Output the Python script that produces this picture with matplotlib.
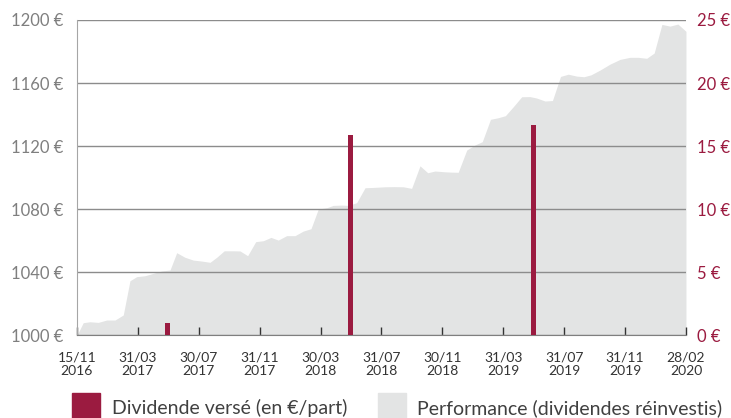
import matplotlib.pyplot as plt
from matplotlib.patches import Rectangle

plt.rcParams['font.family'] = ['Lato', 'DejaVu Sans']

# performance (dividendes reinvestis), x in months since 15/11/2016
perf_months = [0, 0.41, 0.85, 1.40, 1.95, 2.50, 3.04, 3.48, 3.92, 4.47, 5.01, 5.56, 6.11,
               6.55, 7.09, 7.64, 8.19, 8.74, 9.18, 9.67, 10.27, 10.71, 11.21, 11.74, 12.24,
               12.74, 13.22, 13.77, 14.32, 14.86, 15.37, 15.85, 16.40, 16.83, 17.39, 17.82,
               18.37, 18.92, 19.46, 20.23, 20.82, 21.43, 21.98, 22.53, 23.04, 23.51, 24.17,
               24.60, 25.04, 25.60, 26.14, 26.62, 27.16, 27.67, 28.14, 28.66, 29.21, 29.75,
               30.19, 30.74, 31.23, 31.76, 32.27, 32.82, 33.30, 33.76, 34.35, 35.01, 35.67,
               36.32, 36.87, 37.42, 37.91, 38.42, 38.95, 39.47, 40.00]
perf_values = [1000.0, 1008.0, 1008.6, 1008.2, 1009.7, 1009.7, 1012.9, 1034.6, 1037.2, 1037.8,
               1039.3, 1040.8, 1041.4, 1052.4, 1049.5, 1047.7, 1047.1, 1046.3, 1049.5, 1053.6,
               1053.6, 1053.5, 1050.5, 1059.4, 1060.0, 1062.1, 1060.4, 1063.2, 1063.2, 1066.1,
               1067.6, 1080.1, 1080.9, 1082.4, 1082.6, 1082.4, 1084.1, 1093.6, 1093.8, 1094.2,
               1094.3, 1094.2, 1093.2, 1107.5, 1103.1, 1104.2, 1103.7, 1103.5, 1103.4, 1117.5,
               1120.7, 1122.8, 1137.0, 1138.0, 1139.3, 1145.0, 1151.3, 1151.4, 1150.5, 1148.6,
               1148.9, 1164.2, 1165.6, 1164.4, 1164.0, 1165.2, 1168.2, 1172.0, 1175.0, 1176.3,
               1176.3, 1175.7, 1179.0, 1197.2, 1196.1, 1197.4, 1192.8]

# dividendes verses (en euros par part)
div_months = [5.96, 17.95, 29.97]
div_values = [0.95, 15.9, 16.7]

tick_months = [0, 4, 8, 12, 16, 20, 24, 28, 32, 36, 40]
tick_labels = ["15/11\n2016", "31/03\n2017", "30/07\n2017", "31/11\n2017", "30/03\n2018",
               "31/07\n2018", "30/11\n2018", "31/03\n2019", "31/07\n2019", "31/11\n2019",
               "28/02\n2020"]

crimson = '#9b1b40'
area_col = '#e3e4e4'

fig = plt.figure(figsize=(7.31, 4.18), dpi=100)
ax = fig.add_axes([0.1053, 0.1978, 0.8331, 0.7544])
ax.fill_between(perf_months, 1000, perf_values, color=area_col, linewidth=0)
ax.set_xlim(0, 40)
ax.set_ylim(1000, 1200)
ax.set_yticks(range(1000, 1201, 40))
ax.set_yticklabels([f"{v} €" for v in range(1000, 1201, 40)], color='#7f7f7f', fontsize=12)
ax.yaxis.grid(True, color='#8c8c8c', linewidth=1)
ax.tick_params(axis='y', length=0, pad=10)
ax.set_xticks(tick_months)
ax.set_xticklabels(tick_labels, fontsize=10, color='#333333', linespacing=1.1)
ax.tick_params(axis='x', direction='in', length=6, width=1, color='#333333', pad=12)
for s in ['top', 'right']:
    ax.spines[s].set_visible(False)
ax.spines['left'].set_color('#a6a6a6')
ax.spines['bottom'].set_color('#7f7f7f')

ax2 = ax.twinx()
ax2.bar(div_months, div_values, width=0.33, color=crimson)
ax2.set_ylim(0, 25)
ax2.set_yticks(range(0, 26, 5))
ax2.set_yticklabels([f"{v} €" for v in range(0, 26, 5)], color=crimson, fontsize=12)
ax2.tick_params(axis='y', length=0, pad=8)
for s in ['top', 'right', 'left', 'bottom']:
    ax2.spines[s].set_visible(False)

# legend
fig.patches.append(Rectangle((72 / 731, 0), 28 / 731, 25.5 / 418, transform=fig.transFigure,
                             color=crimson))
fig.text(112 / 731, 4 / 418, "Dividende versé (en €/part)", fontsize=14, color='#404040',
         va='baseline')
fig.patches.append(Rectangle((377.5 / 731, 0), 28 / 731, 25.5 / 418,
                             transform=fig.transFigure, color=area_col))
fig.text(417 / 731, 4 / 418, "Performance (dividendes réinvestis)", fontsize=14,
         color='#404040', va='baseline')

fig.savefig('out.png', dpi=100)
